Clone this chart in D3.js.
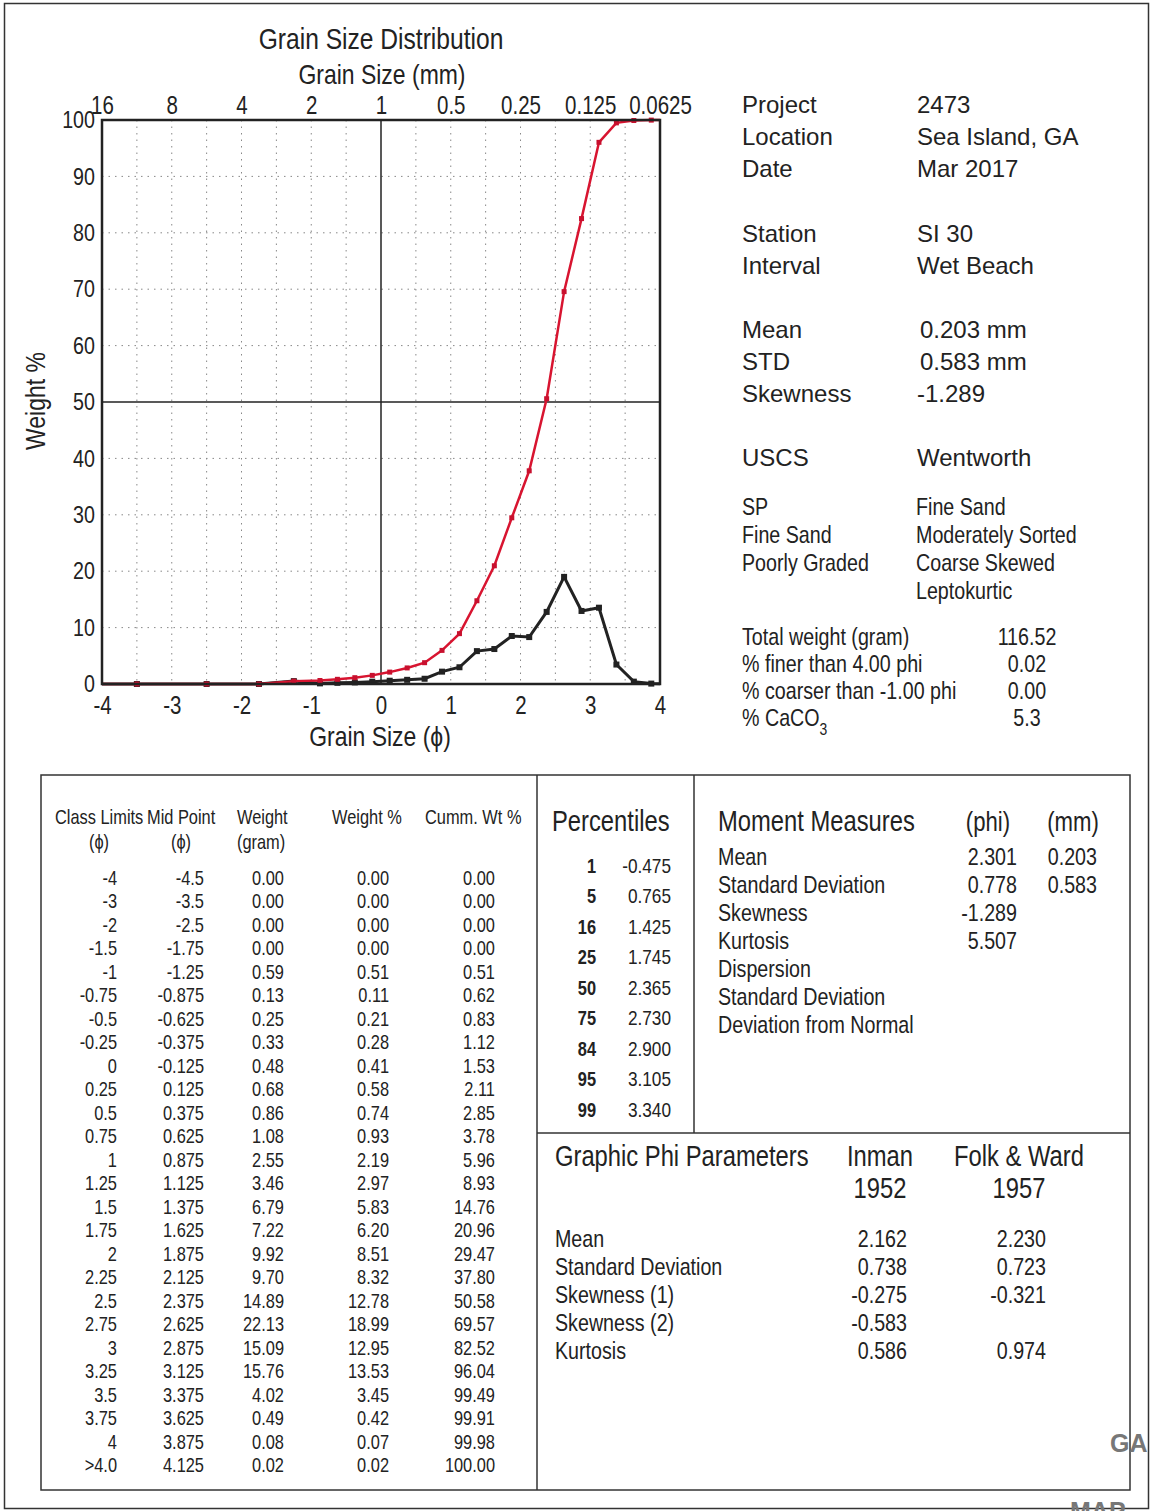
<!DOCTYPE html>
<html>
<head>
<meta charset="utf-8">
<script src="https://cdn.jsdelivr.net/npm/d3@7"></script>
<style>
  body { margin: 0; background: #fff; }
  text { fill: #222; }
</style>
</head>
<body>
<script>
// sieve data
const classLimits = ["-4","-3","-2","-1.5","-1","-0.75","-0.5","-0.25","0","0.25","0.5","0.75","1","1.25","1.5","1.75","2","2.25","2.5","2.75","3","3.25","3.5","3.75","4",">4.0"];
const midPoints = [-4.5,-3.5,-2.5,-1.75,-1.25,-0.875,-0.625,-0.375,-0.125,0.125,0.375,0.625,0.875,1.125,1.375,1.625,1.875,2.125,2.375,2.625,2.875,3.125,3.375,3.625,3.875,4.125];
const weights = [0,0,0,0,0.59,0.13,0.25,0.33,0.48,0.68,0.86,1.08,2.55,3.46,6.79,7.22,9.92,9.70,14.89,22.13,15.09,15.76,4.02,0.49,0.08,0.02];
const weightPct = [0,0,0,0,0.51,0.11,0.21,0.28,0.41,0.58,0.74,0.93,2.19,2.97,5.83,6.20,8.51,8.32,12.78,18.99,12.95,13.53,3.45,0.42,0.07,0.02];
const cummPct = [0,0,0,0,0.51,0.62,0.83,1.12,1.53,2.11,2.85,3.78,5.96,8.93,14.76,20.96,29.47,37.80,50.58,69.57,82.52,96.04,99.49,99.91,99.98,100.00];

const phiTicks = [-4,-3,-2,-1,0,1,2,3,4];
const mmTicks = ["16","8","4","2","1","0.5","0.25","0.125","0.0625"];
const yTicks = [0,10,20,30,40,50,60,70,80,90,100];

const infoLabels = [["Project","Location","Date"],["Station","Interval"],["Mean","STD","Skewness"],["USCS"]];
const infoValues = [["2473","Sea Island, GA","Mar 2017"],["SI 30","Wet Beach"],["0.203 mm","0.583 mm","-1.289"],["Wentworth"]];
const uscsClass = ["SP","Fine Sand","Poorly Graded"];
const wentworthClass = ["Fine Sand","Moderately Sorted","Coarse Skewed","Leptokurtic"];
const summaryLabels = ["Total weight (gram)","% finer than 4.00 phi","% coarser than -1.00 phi","% CaCO"];
const summaryValues = ["116.52","0.02","0.00","5.3"];

const pctLevels = ["1","5","16","25","50","75","84","95","99"];
const pctValues = ["-0.475","0.765","1.425","1.745","2.365","2.730","2.900","3.105","3.340"];

const momentLabels = ["Mean","Standard Deviation","Skewness","Kurtosis","Dispersion","Standard Deviation","Deviation from Normal"];
const momentPhi = ["2.301","0.778","-1.289","5.507","","",""];
const momentMm = ["0.203","0.583","","","","",""];

const graphicLabels = ["Mean","Standard Deviation","Skewness (1)","Skewness (2)","Kurtosis"];
const inmanValues = ["2.162","0.738","-0.275","-0.583","0.586"];
const folkWardValues = ["2.230","0.723","-0.321","","0.974"];

const FONT = "'Liberation Sans', Arial, sans-serif";
const SQ = 0.82; // horizontal squeeze to mimic a narrow face

const svg = d3.select("body").append("svg")
    .attr("width", 1151)
    .attr("height", 1511);

// narrow text: drawn in a horizontally squeezed group
const narrowG = svg.append("g").attr("transform", `scale(${SQ},1)`);

function txt(x, y, s, size, opts = {}) {
    const wide = opts.wide;
    const parent = wide ? svg : narrowG;
    return parent.append("text")
        .attr("x", wide ? x : x / SQ).attr("y", y)
        .attr("font-family", FONT)
        .attr("font-size", size)
        .attr("font-weight", opts.weight || "normal")
        .attr("text-anchor", opts.anchor || "start")
        .style("fill", opts.fill || "#222")
        .text(s);
}

// page frame
svg.append("rect")
    .attr("x", 4.5).attr("y", 3.5)
    .attr("width", 1144).attr("height", 1505)
    .attr("fill", "none").attr("stroke", "#333").attr("stroke-width", 1.5);

// ---- chart ----
const x = d3.scaleLinear().domain([-4, 4]).range([102, 660]);
const y = d3.scaleLinear().domain([0, 100]).range([684, 120]);

svg.append("clipPath").attr("id", "plotClip")
    .append("rect").attr("x", 102).attr("y", 116).attr("width", 558).attr("height", 572);

const grid = svg.append("g");
grid.selectAll("line.v")
    .data(d3.range(-3.5, 4, 0.5).filter(d => d !== 0))
    .enter().append("line")
    .attr("x1", d => x(d)).attr("x2", d => x(d))
    .attr("y1", y(100)).attr("y2", y(0))
    .attr("stroke", "#888").attr("stroke-width", 1).attr("stroke-dasharray", "1.5,5");
grid.selectAll("line.h")
    .data(yTicks.filter(d => d > 0 && d < 100 && d !== 50))
    .enter().append("line")
    .attr("x1", x(-4)).attr("x2", x(4))
    .attr("y1", d => y(d)).attr("y2", d => y(d))
    .attr("stroke", "#888").attr("stroke-width", 1).attr("stroke-dasharray", "1.5,5");

// solid cross at phi 0 / 50 %
svg.append("line").attr("x1", x(0)).attr("x2", x(0)).attr("y1", y(100)).attr("y2", y(0))
    .attr("stroke", "#222").attr("stroke-width", 1.5);
svg.append("line").attr("x1", x(-4)).attr("x2", x(4)).attr("y1", y(50)).attr("y2", y(50))
    .attr("stroke", "#222").attr("stroke-width", 1.5);

const points = midPoints.map((m, i) => ({ phi: m, w: weightPct[i], c: cummPct[i] }));
const plot = svg.append("g").attr("clip-path", "url(#plotClip)");

const lineW = d3.line().x(d => x(d.phi)).y(d => y(d.w));
const lineC = d3.line().x(d => x(d.phi)).y(d => y(d.c));

plot.append("path").datum(points).attr("d", lineW)
    .attr("fill", "none").attr("stroke", "#222").attr("stroke-width", 3);
plot.selectAll("rect.w").data(points).enter().append("rect")
    .attr("x", d => x(d.phi) - 3).attr("y", d => y(d.w) - 3)
    .attr("width", 6).attr("height", 6).attr("fill", "#222");

plot.append("path").datum(points).attr("d", lineC)
    .attr("fill", "none").attr("stroke", "#d81430").attr("stroke-width", 2.5);
plot.selectAll("rect.c").data(points).enter().append("rect")
    .attr("x", d => x(d.phi) - 2.5).attr("y", d => y(d.c) - 2.5)
    .attr("width", 5).attr("height", 5).attr("fill", "#c8102e");

// plot border
svg.append("rect").attr("x", 102).attr("y", 120).attr("width", 558).attr("height", 564)
    .attr("fill", "none").attr("stroke", "#222").attr("stroke-width", 2.5);

// axes
const axisLeft = svg.append("g").attr("transform", "translate(102,0)")
    .call(d3.axisLeft(y).tickValues(yTicks).tickSize(0).tickPadding(7));
const axisBottom = svg.append("g").attr("transform", "translate(0,684)")
    .call(d3.axisBottom(x).tickValues(phiTicks).tickFormat(d => String(d)).tickSize(0).tickPadding(12));
const axisTop = svg.append("g").attr("transform", "translate(0,120)")
    .call(d3.axisTop(x).tickValues(phiTicks).tickFormat((d, i) => mmTicks[i]).tickSize(0).tickPadding(6));
[axisLeft, axisBottom, axisTop].forEach(a => {
    a.select(".domain").remove();
    a.selectAll("text")
        .attr("font-family", FONT).attr("font-size", 25)
        .attr("transform", `scale(${SQ},1)`)
        .style("fill", "#222");
});
axisLeft.selectAll("text").attr("font-size", 24).attr("x", -7 / SQ);

txt(381, 49, "Grain Size Distribution", 30, { anchor: "middle" });
txt(382, 84, "Grain Size (mm)", 28, { anchor: "middle" });
txt(380, 746, "Grain Size (\u03d5)", 28, { anchor: "middle" });
svg.append("text")
    .attr("transform", `translate(45,401) rotate(-90) scale(${SQ},1)`)
    .attr("text-anchor", "middle")
    .attr("font-family", FONT).attr("font-size", 28)
    .style("fill", "#222")
    .text("Weight %");

// ---- sample info panel ----
const groupY = [113, 242, 338, 466];
infoLabels.forEach((grp, g) => {
    grp.forEach((lab, i) => {
        const yy = groupY[g] + i * 32;
        txt(742, yy, lab, 24, { wide: true });
        txt(g === 2 && i < 2 ? 920 : 917, yy, infoValues[g][i], 24, { wide: true });
    });
});
uscsClass.forEach((s, i) => txt(742, 515 + i * 28, s, 24));
wentworthClass.forEach((s, i) => txt(916, 515 + i * 28, s, 24));
summaryLabels.forEach((s, i) => {
    const t = txt(742, 645 + i * 27, s, 24);
    if (i === 3) t.append("tspan").attr("dy", 9).attr("font-size", 17).text("3");
    txt(1027, 645 + i * 27, summaryValues[i], 24, { anchor: "middle" });
});

// ---- bottom tables ----
const boxes = svg.append("g").attr("fill", "none").attr("stroke", "#333").attr("stroke-width", 1.5);
boxes.append("rect").attr("x", 41).attr("y", 775).attr("width", 1089).attr("height", 715);
boxes.append("line").attr("x1", 537).attr("x2", 537).attr("y1", 775).attr("y2", 1490);
boxes.append("line").attr("x1", 694).attr("x2", 694).attr("y1", 775).attr("y2", 1133);
boxes.append("line").attr("x1", 537).attr("x2", 1130).attr("y1", 1133).attr("y2", 1133);

// sieve table header
txt(55, 824, "Class Limits", 20);
txt(147, 824, "Mid Point", 20);
txt(237, 824, "Weight", 20);
txt(332, 824, "Weight %", 20);
txt(425, 824, "Cumm. Wt %", 20);
txt(99, 849, "(\u03d5)", 20, { anchor: "middle" });
txt(181, 849, "(\u03d5)", 20, { anchor: "middle" });
txt(237, 849, "(gram)", 20);

const rowStep = (1465 - 878) / 25;
classLimits.forEach((c, i) => {
    const yy = 885 + i * rowStep;
    const cells = [
        [117, c],
        [204, String(midPoints[i])],
        [284, weights[i].toFixed(2)],
        [389, weightPct[i].toFixed(2)],
        [495, cummPct[i].toFixed(2)]
    ];
    cells.forEach(([cx, s]) => txt(cx, yy, s, 20, { anchor: "end" }));
});

// percentiles
txt(552, 831, "Percentiles", 29);
pctLevels.forEach((p, i) => {
    const yy = 873 + i * 30.5;
    txt(596, yy, p, 20, { anchor: "end", weight: "bold" });
    txt(671, yy, pctValues[i], 21, { anchor: "end" });
});

// moment measures
txt(718, 831, "Moment Measures", 29);
txt(988, 831, "(phi)", 27, { anchor: "middle" });
txt(1073, 831, "(mm)", 27, { anchor: "middle" });
momentLabels.forEach((m, i) => {
    const yy = 865 + i * 28;
    txt(718, yy, m, 24);
    txt(1017, yy, momentPhi[i], 24, { anchor: "end" });
    txt(1097, yy, momentMm[i], 24, { anchor: "end" });
});

// graphic phi parameters
txt(555, 1166, "Graphic Phi Parameters", 29);
txt(880, 1166, "Inman", 29, { anchor: "middle" });
txt(880, 1198, "1952", 29, { anchor: "middle" });
txt(1019, 1166, "Folk & Ward", 29, { anchor: "middle" });
txt(1019, 1198, "1957", 29, { anchor: "middle" });
graphicLabels.forEach((g, i) => {
    const yy = 1247 + i * 28;
    txt(555, yy, g, 24);
    txt(907, yy, inmanValues[i], 24, { anchor: "end" });
    txt(1046, yy, folkWardValues[i], 24, { anchor: "end" });
});

// stamp fragments at the page edge
txt(1110, 1452, "GA", 25, { wide: true, weight: "bold", fill: "#777" });
txt(1070, 1520, "MAP", 25, { wide: true, weight: "bold", fill: "#777" });
</script>
</body>
</html>
